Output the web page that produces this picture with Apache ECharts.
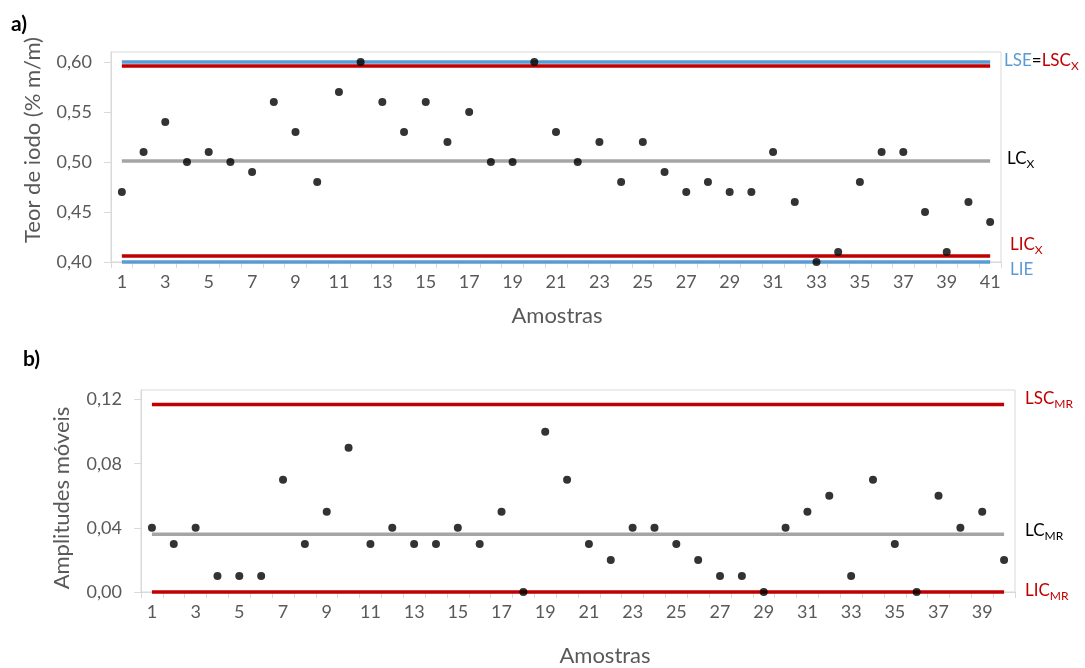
<!DOCTYPE html>
<html>
<head>
<meta charset="utf-8">
<script src="https://cdn.jsdelivr.net/npm/echarts@6/dist/echarts.min.js"></script>
<style>
  html, body { margin: 0; padding: 0; background: #fff; }
  #chart { width: 1085px; height: 668px; }
</style>
</head>
<body>
<div id="chart"></div>
<script>
// Amostras (eixo x) de cada carta
const amostrasX = ['1','2','3','4','5','6','7','8','9','10','11','12','13','14','15','16','17','18','19','20',
  '21','22','23','24','25','26','27','28','29','30','31','32','33','34','35','36','37','38','39','40','41'];
const amostrasMR = ['1','2','3','4','5','6','7','8','9','10','11','12','13','14','15','16','17','18','19','20',
  '21','22','23','24','25','26','27','28','29','30','31','32','33','34','35','36','37','38','39','40'];

// Teor de iodo (% m/m) por amostra
const teorIodo = [0.47, 0.51, 0.54, 0.50, 0.51, 0.50, 0.49, 0.56, 0.53, 0.48,
  0.57, 0.60, 0.56, 0.53, 0.56, 0.52, 0.55, 0.50, 0.50, 0.60,
  0.53, 0.50, 0.52, 0.48, 0.52, 0.49, 0.47, 0.48, 0.47, 0.47,
  0.51, 0.46, 0.40, 0.41, 0.48, 0.51, 0.51, 0.45, 0.41, 0.46, 0.44];

// Amplitudes móveis entre amostras consecutivas
const amplitudes = [0.04, 0.03, 0.04, 0.01, 0.01, 0.01, 0.07, 0.03, 0.05, 0.09,
  0.03, 0.04, 0.03, 0.03, 0.04, 0.03, 0.05, 0.00, 0.10, 0.07,
  0.03, 0.02, 0.04, 0.04, 0.03, 0.02, 0.01, 0.01, 0.00, 0.04,
  0.05, 0.06, 0.01, 0.07, 0.03, 0.00, 0.06, 0.04, 0.05, 0.02];

// Limites de especificação e de controle
const LSE = 0.60, LIE = 0.40;
const LSC_X = 0.596, LC_X = 0.501, LIC_X = 0.406;
const LSC_MR = 0.117, LC_MR = 0.036, LIC_MR = 0.00;

// Ticks dos eixos y
const yTicksX = { min: 0.40, max: 0.61, interval: 0.05 };
const yTicksMR = { min: 0.00, max: 0.126, interval: 0.04 };

const BLUE = '#5b9bd5', RED = '#c00000', GRAY = '#a5a5a5', TXT = '#595959', FRAME = '#d9d9d9';
const FONT = 'Lato, "Open Sans", sans-serif';

const fmt = v => v.toFixed(2).replace('.', ',');
const constant = (n, v) => new Array(n).fill(v);

function xAxisCfg(gridIndex, cats) {
  return {
    type: 'category', gridIndex, data: cats, boundaryGap: true,
    axisLine: { show: true, lineStyle: { color: FRAME, width: 1 } },
    axisTick: { show: true, interval: 0, length: 6, lineStyle: { color: FRAME } },
    axisLabel: { interval: 1, color: TXT, fontSize: 18, fontFamily: FONT, margin: 11 },
    splitLine: { show: false }
  };
}
function yAxisCfg(gridIndex, t) {
  return {
    type: 'value', gridIndex, min: t.min, max: t.max, interval: t.interval,
    axisLine: { show: true, lineStyle: { color: FRAME, width: 1 } },
    axisTick: { show: true, length: 7, lineStyle: { color: FRAME } },
    axisLabel: { color: TXT, fontSize: 18, fontFamily: FONT, margin: 19, showMaxLabel: false,
      formatter: v => fmt(v) },
    splitLine: { show: false }
  };
}
function limitLine(name, xi, n, value, color) {
  return {
    name, type: 'line', xAxisIndex: xi, yAxisIndex: xi, data: constant(n, value),
    symbol: 'none', lineStyle: { color, width: 3.5 }, clip: false, silent: true, z: 2,
    animation: false
  };
}
function points(name, xi, data) {
  return {
    name, type: 'scatter', xAxisIndex: xi, yAxisIndex: xi, data,
    symbol: 'circle', symbolSize: 8, itemStyle: { color: '#000' }, clip: false, z: 5,
    animation: false
  };
}

// Rótulos dos limites, com subscrito
const main = fill => ({ fontSize: 17, lineHeight: 22, fill, fontFamily: FONT });
const sub = fill => ({ fontSize: 12, lineHeight: 12, padding: [10, 0, 0, 0], fill, fontFamily: FONT });
function richLabel(left, top, text, rich) {
  return { type: 'text', left, top, style: { text, rich, fontFamily: FONT } };
}

const chart = echarts.init(document.getElementById('chart'), null, { renderer: 'canvas' });
chart.setOption({
  backgroundColor: '#fff',
  animation: false,
  grid: [
    { left: 111, right: 84, top: 52, height: 210, show: true, borderColor: FRAME, borderWidth: 1, containLabel: false },
    { left: 141, right: 70, top: 390, height: 202, show: true, borderColor: FRAME, borderWidth: 1, containLabel: false }
  ],
  xAxis: [xAxisCfg(0, amostrasX), xAxisCfg(1, amostrasMR)],
  yAxis: [yAxisCfg(0, yTicksX), yAxisCfg(1, yTicksMR)],
  series: [
    limitLine('LSE', 0, amostrasX.length, LSE, BLUE),
    limitLine('LIE', 0, amostrasX.length, LIE, BLUE),
    limitLine('LSC', 0, amostrasX.length, LSC_X, RED),
    limitLine('LC', 0, amostrasX.length, LC_X, GRAY),
    limitLine('LIC', 0, amostrasX.length, LIC_X, RED),
    points('Teor de iodo', 0, teorIodo),
    limitLine('LSC MR', 1, amostrasMR.length, LSC_MR, RED),
    limitLine('LC MR', 1, amostrasMR.length, LC_MR, GRAY),
    limitLine('LIC MR', 1, amostrasMR.length, LIC_MR, RED),
    points('Amplitudes móveis', 1, amplitudes)
  ],
  graphic: [
    { type: 'text', left: 11, top: 14, style: { text: 'a)', font: 'bold 21px ' + FONT, fill: '#000' } },
    { type: 'text', left: 23, top: 349, style: { text: 'b)', font: 'bold 21px ' + FONT, fill: '#000' } },
    { type: 'text', x: 33, y: 140, rotation: Math.PI / 2,
      style: { text: 'Teor de iodo (% m/m)', font: '22px ' + FONT, fill: TXT, align: 'center', verticalAlign: 'middle' } },
    { type: 'text', x: 62, y: 498, rotation: Math.PI / 2,
      style: { text: 'Amplitudes móveis', font: '22px ' + FONT, fill: TXT, align: 'center', verticalAlign: 'middle' } },
    { type: 'text', x: 557, y: 316,
      style: { text: 'Amostras', font: '22px ' + FONT, fill: TXT, align: 'center', verticalAlign: 'middle' } },
    { type: 'text', x: 605, y: 656,
      style: { text: 'Amostras', font: '22px ' + FONT, fill: TXT, align: 'center', verticalAlign: 'middle' } },
    richLabel(1004, 50, '{b|LSE}{k|=}{r|LSC}{rs|X}', { b: main(BLUE), k: main('#000'), r: main(RED), rs: sub(RED) }),
    richLabel(1007, 148, '{k|LC}{ks|X}', { k: main('#000'), ks: sub('#000') }),
    richLabel(1010, 234, '{r|LIC}{rs|X}', { r: main(RED), rs: sub(RED) }),
    richLabel(1010, 261, '{b|LIE}', { b: main(BLUE) }),
    richLabel(1025, 388, '{r|LSC}{rs|MR}', { r: main(RED), rs: sub(RED) }),
    richLabel(1025, 520, '{k|LC}{ks|MR}', { k: main('#000'), ks: sub('#000') }),
    richLabel(1025, 580, '{r|LIC}{rs|MR}', { r: main(RED), rs: sub(RED) })
  ]
});
</script>
</body>
</html>
